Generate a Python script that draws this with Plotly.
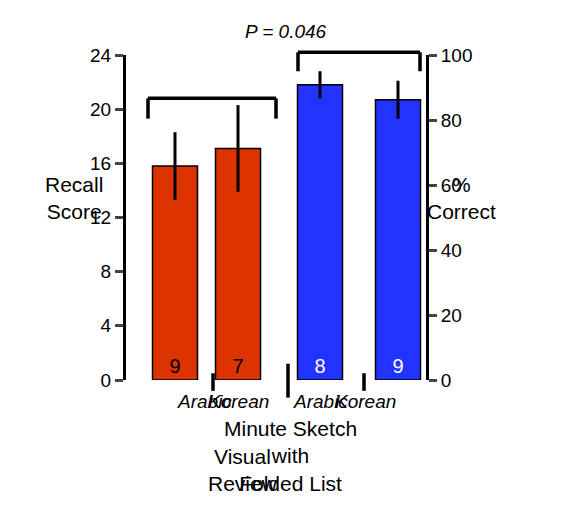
import plotly.graph_objects as go

# data
languages = ["Arabic", "Korean", "Arabic", "Korean"]
recall = [15.8, 17.1, 21.8, 20.7]
err = [2.5, 3.2, 1.0, 1.4]
n_subjects = ["9", "7", "8", "9"]
colors = ["#dd3300", "#dd3300", "#2233ff", "#2233ff"]
positions = [49, 112, 194, 272]

fig = go.Figure()
fig.add_trace(go.Bar(
    x=positions, y=recall, width=45, marker=dict(color=colors, line=dict(color="black", width=1.5)),
    error_y=dict(type="data", array=err, color="black", thickness=3, width=0),
    text=n_subjects, textposition="inside", insidetextanchor="start",
    textfont=dict(size=20, color=["black", "black", "white", "white"]),
    showlegend=False))
# dummy trace for right axis
fig.add_trace(go.Scatter(x=[0], y=[0], yaxis="y2", mode="markers", marker=dict(opacity=0), showlegend=False))

ax = dict(showgrid=False, zeroline=False, showline=True, linewidth=3, linecolor="black",
          ticks="outside", ticklen=8, tickwidth=3, tickfont=dict(size=19, color="black"))
fig.update_layout(
    width=570, height=523, plot_bgcolor="white", paper_bgcolor="white",
    margin=dict(l=118, r=152, t=47, b=151),
    font=dict(family="Liberation Sans, Arial", color="black"),
    xaxis=dict(range=[0, 300], visible=False),
    yaxis=dict(range=[0, 24], dtick=4, **ax),
    yaxis2=dict(range=[0, 100], dtick=20, overlaying="y", side="right", **ax),
)

# brackets and separators (paper y so they are not clipped)
def line(x0, y0, x1, y1):
    fig.add_shape(type="line", x0=(x0) / 300, y0=y0 / 24, x1=x1 / 300, y1=y1 / 24,
                  xref="paper", yref="paper", line=dict(color="black", width=3.5))

line(22, 20.8, 150, 20.8); line(22, 20.8, 22, 19.3); line(150, 20.8, 150, 19.3)
line(172, 24.2, 294, 24.2); line(172, 24.2, 172, 22.8); line(294, 24.2, 294, 22.8)
line(87, 0.5, 87, -0.8); line(162, 1.2, 162, -1.3); line(238, 0.5, 238, -0.8)

for p, lab in zip(positions, languages):
    fig.add_annotation(x=p / 300, xref="paper", y=-0.105, yref="paper", text=f"<i>{lab}</i>",
                       showarrow=False, font=dict(size=19))
fig.add_annotation(x=80 / 300, xref="paper", y=-0.36, yref="paper", text="Visual<br>Review",
                   showarrow=False, font=dict(size=21))
fig.add_annotation(x=233 / 300, xref="paper", y=-0.36, yref="paper",
                   text="Minute Sketch<br>with<br>Folded List", showarrow=False, font=dict(size=21))
fig.add_annotation(x=-0.277, xref="paper", y=0.56, yref="paper", text="Recall<br>Score",
                   showarrow=False, font=dict(size=21))
fig.add_annotation(x=1.24, xref="paper", y=0.56, yref="paper", text="%<br>Correct",
                   showarrow=False, font=dict(size=21))
fig.add_annotation(x=160 / 300, xref="paper", y=1.11, yref="paper", text="<i>P = 0.046</i>",
                   showarrow=False, font=dict(size=19))

fig.write_html("out.html")
